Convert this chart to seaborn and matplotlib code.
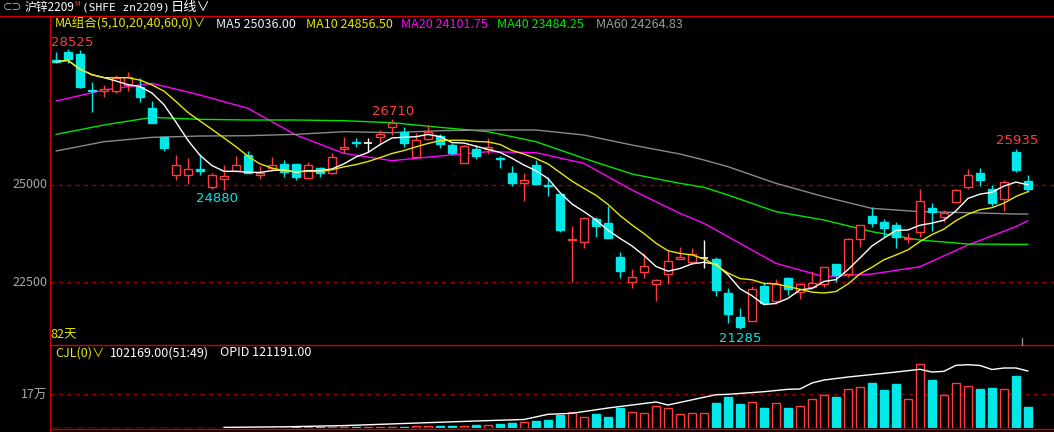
import numpy as np
import pandas as pd
import matplotlib
matplotlib.use("Agg")
import matplotlib.pyplot as plt
from matplotlib.lines import Line2D
import seaborn as sns

sns.set_style("dark")
plt.rcParams["font.family"] = ["Noto Sans CJK SC", "DejaVu Sans"]

# ---- data ----
opens = [28228, 28426, 28383, 27456, 27421, 27438, 27585, 27541, 26991, 26253,
         25273, 25273, 25420, 24964, 25170, 25377, 25780, 25273, 25446, 25548,
         25548, 25179, 25446, 25308, 25926, 26124, 26098, 26236, 26494, 26374,
         25737, 26184, 26270, 26038, 25582, 25935, 25926, 25694, 25325, 25050,
         25523, 24998, 24775, 23582, 23547, 24131, 24020, 23161, 22516, 22774,
         22465, 22705, 23092, 23032, 23118, 23092, 22216, 21597, 21511, 22405,
         22027, 22602, 22259, 22370, 22448, 22972, 22705, 23607, 24209, 24054,
         23977, 23616, 23805, 24406, 24174, 24561, 24965, 25308, 24896, 24638,
         25858, 25111]
highs = [28443, 28525, 28486, 27670, 27585, 27842, 27928, 27756, 27172, 26253,
         25780, 25712, 25806, 25325, 25523, 25755, 25892, 25497, 25720, 25652,
         25548, 25609, 25480, 25823, 26253, 26210, 26210, 26425, 26710, 26494,
         26339, 26554, 26313, 26098, 26038, 26038, 26210, 25755, 25497, 25325,
         25652, 25222, 24775, 23951, 24174, 24192, 24466, 23272, 22834, 23247,
         22577, 23315, 23401, 23376, 23590, 23161, 22345, 21829, 22405, 22516,
         22577, 22645, 22491, 22791, 22886, 22972, 23633, 23968, 24432, 24123,
         24054, 23779, 24896, 24535, 24363, 24896, 25411, 25437, 25008, 25137,
         25935, 25265]
lows = [28142, 28142, 27499, 26897, 27267, 27387, 27438, 27155, 26596, 25892,
        25136, 25033, 25265, 24900, 24880, 25377, 25308, 25170, 25394, 25222,
        25136, 25179, 25205, 25282, 25823, 25978, 25866, 26038, 26296, 25995,
        25737, 26184, 25952, 25780, 25582, 25686, 25806, 25437, 24981, 24603,
        25033, 24723, 23804, 22500, 23393, 23659, 23650, 22602, 22362, 22620,
        22027, 22448, 23092, 22963, 22860, 22156, 21443, 21285, 21511, 21975,
        21941, 22173, 22070, 22370, 22370, 22517, 22645, 23419, 23917, 23659,
        23376, 23504, 23676, 23831, 24063, 24561, 24905, 24991, 24467, 24346,
        25351, 24836]
closes = [28185, 28254, 27541, 27421, 27473, 27756, 27782, 27284, 26596, 25969,
          25514, 25420, 25368, 25265, 25239, 25514, 25308, 25325, 25514, 25334,
          25205, 25523, 25308, 25738, 25995, 26089, 26098, 26322, 26597, 26081,
          26167, 26382, 26055, 25823, 26012, 25763, 25978, 25669, 25067, 25136,
          25033, 24973, 23847, 23607, 24148, 23960, 23650, 22800, 22628, 22920,
          22551, 23040, 23143, 23229, 23118, 22302, 21675, 21357, 22319, 21975,
          22456, 22328, 22456, 22491, 22886, 22688, 23607, 23968, 24037, 23908,
          23676, 23650, 24587, 24303, 24286, 24879, 25257, 25137, 24552, 25076,
          25394, 24905]
volumes = [600, 700, 650, 800, 750, 900, 850, 1000, 1100, 1200,
           1150, 1300, 1400, 1500, 1600, 1700, 1800, 2000, 2200, 2400,
           2600, 2900, 3200, 3500, 4000, 4500, 5000, 6000, 6500, 7500,
           8000, 9000, 10000, 11000, 12500, 14000, 16000, 20000, 25000, 30000,
           35000, 40000, 66700, 80000, 53300, 70000, 55000, 101700, 80000, 75000,
           108300, 98300, 70000, 75000, 75000, 125000, 155000, 120000, 130000, 100000,
           123300, 100000, 108300, 143300, 165000, 155000, 193300, 203300, 225000, 190000,
           220000, 143300, 318300, 240000, 165000, 223300, 208300, 195000, 200000, 193300,
           260000, 105000]

# moving averages (longer windows need history not shown)
ma_idx = [0, 4, 8, 12, 16, 20, 24, 28, 32, 36, 40, 44, 48, 52, 54, 56, 60, 64, 68, 72, 76, 80, 81]
ma20 = [27172, 27456, 27627, 27327, 26983, 26296, 25823, 25635, 25755, 25866, 25841, 25566,
        24879, 24277, 24020, 23676, 22989, 22645, 22714, 22903, 23462, 23934, 24089]
ma40 = [26313, 26554, 26751, 26700, 26683, 26683, 26665, 26614, 26494, 26382, 26124, 25695,
        25291, 25051, 24948, 24750, 24321, 24106, 23805, 23590, 23487, 23479, 23479]
ma60 = [25884, 26124, 26236, 26270, 26279, 26313, 26382, 26356, 26408, 26425, 26425, 26296,
        26038, 25806, 25652, 25480, 25051, 24707, 24406, 24321, 24295, 24260, 24260]

oi_idx = [14, 19, 24, 29, 35, 39, 41, 43, 46, 50, 51, 55, 56, 59, 61, 62, 63, 64, 66, 69,
          70, 72, 73, 74, 75, 76, 77, 78, 79, 80, 81]
oi = [1300, 2550, 5100, 9570, 14900, 18100, 29100, 31250, 42500, 55300, 48900, 70800, 71600,
      77200, 82300, 82900, 95700, 102000, 108400, 116300, 119000, 124800, 119000, 120500,
      133300, 134600, 133000, 124400, 127600, 127600, 121191]

RED = "#ff3b3b"
CYAN = "#00e8e8"
DASH = "#9a0000"

df = pd.DataFrame({"o": opens, "h": highs, "l": lows, "c": closes, "v": volumes})
df["i"] = np.arange(len(df))
df["ma5"] = df["c"].rolling(5, min_periods=1).mean()
df["ma10"] = df["c"].rolling(10, min_periods=1).mean()

W, H = 1054, 432
fig = plt.figure(figsize=(W / 100, H / 100), dpi=100, facecolor="black")
axp = fig.add_axes([50 / W, (H - 345) / H, (W - 50) / W, (345 - 16) / H])
axv = fig.add_axes([50 / W, (H - 428) / H, (W - 50) / W, (428 - 345) / H])
for ax in (axp, axv):
    ax.set_facecolor("black")
    for s in ax.spines.values():
        s.set_visible(False)
    ax.set_xticks([])
    ax.set_yticks([])
    ax.grid(False)
    ax.set_xlim(-0.5, 83.17)

# candles
bw = 0.72
for r in df.itertuples():
    top, bot = max(r.o, r.c), min(r.o, r.c)
    if r.c > r.o:
        col = RED
        axp.bar(r.i, top - bot, bw, bot, facecolor="black", edgecolor=col, linewidth=1, zorder=3)
    elif r.c < r.o:
        col = CYAN
        axp.bar(r.i, top - bot, bw, bot, facecolor=col, edgecolor=col, linewidth=1, zorder=3)
    else:
        col = "white"
        axp.hlines(r.o, r.i - bw / 2, r.i + bw / 2, color=col, linewidth=1.2, zorder=3)
    axp.vlines(r.i, top, r.h, color=col, linewidth=1, zorder=2)
    axp.vlines(r.i, r.l, bot, color=col, linewidth=1, zorder=2)

sns.lineplot(x=df["i"], y=df["ma5"], ax=axp, color="white", linewidth=1, zorder=4)
sns.lineplot(x=df["i"], y=df["ma10"], ax=axp, color="#e8e800", linewidth=1, zorder=4)
sns.lineplot(x=ma_idx, y=ma20, ax=axp, color="#ff00ff", linewidth=1, zorder=1)
sns.lineplot(x=ma_idx, y=ma40, ax=axp, color="#00e600", linewidth=1, zorder=1)
sns.lineplot(x=ma_idx, y=ma60, ax=axp, color="#8a8a8a", linewidth=1, zorder=1)
axp.set_ylim(20885, 29363)
for lv in (25000, 22500):
    axp.axhline(lv, color=DASH, linestyle=(0, (3, 3)), linewidth=1, zorder=0)
axp.set_xlabel("")
axp.set_ylabel("")

ann = dict(fontsize=9.5, family=["DejaVu Sans"])
axp.text(-0.4, 28693, "28525", color=RED, ha="left", va="center", **ann)
axp.text(28.1, 26912, "26710", color=RED, ha="center", va="center", **ann)
axp.text(13.4, 24673, "24880", color=CYAN, ha="center", va="center", **ann)
axp.text(57, 21065, "21285", color=CYAN, ha="center", va="center", **ann)
axp.text(80.1, 26142, "25935", color=RED, ha="center", va="center", **ann)

# volume panel
for r in df.itertuples():
    if r.c >= r.o:
        axv.bar(r.i, r.v, 0.68, facecolor="black", edgecolor=RED, linewidth=1)
    else:
        axv.bar(r.i, r.v, 0.68, facecolor=CYAN, edgecolor=CYAN, linewidth=1)
axv.set_ylim(0, 415000)
axv.axhline(170000, color=DASH, linestyle=(0, (3, 3)), linewidth=1, zorder=0)
axo = axv.twinx()
axo.set_ylim(0, 176500)
axo.set_axis_off()
sns.lineplot(x=oi_idx, y=oi, ax=axo, color="white", linewidth=1)
axo.set_xlim(-0.5, 83.17)

# frame lines
def fline(x0, y0, x1, y1, c="#d00000"):
    fig.add_artist(Line2D([x0 / W, x1 / W], [1 - y0 / H, 1 - y1 / H], color=c, linewidth=1))

fline(0, 16, W, 16)
fline(50, 16, 50, H)
fline(50, 345, W, 345)
fline(50, 428.5, W, 428.5)
fline(1022, 338, 1022, 345, c="#909090")

def ftext(x, y, s, c, fs=9, **kw):
    fig.text(x / W, 1 - y / H, s, color=c, va="center", fontsize=fs, **kw)

ftext(3, 7, "⊂⊃", "#c8c8c8", fs=7)
ftext(25, 7, "沪锌2209", "white", fs=8.5)
ftext(74, 4, "M", RED, fs=5)
ftext(82, 7, "(SHFE zn2209)", "white", fs=8, family=["DejaVu Sans Mono"])
ftext(171, 7, "日线∨", "white", fs=9.5)
ftext(55, 24, "MA组合(5,10,20,40,60,0)∨", "#e8e800")
ftext(216, 24, "MA5 25036.00", "#e6f0ff")
ftext(306, 24, "MA10 24856.50", "#e8e800")
ftext(401, 24, "MA20 24101.75", "#ff00ff")
ftext(497, 24, "MA40 23484.25", "#00e600")
ftext(596, 24, "MA60 24264.83", "#9a9a9a")
ftext(47, 185, "25000", "#a8a8a8", ha="right")
ftext(47, 283, "22500", "#a8a8a8", ha="right")
ftext(47, 395, "17万", "#a8a8a8", ha="right")
ftext(50, 335, "82天", "#e8e800")
ftext(55, 353, "CJL(0)∨", "#e8e800")
ftext(110, 353, "102169.00(51:49)", "white")
ftext(220, 353, "OPID 121191.00", "white")

fig.savefig("out.png", dpi=100, facecolor="black")
